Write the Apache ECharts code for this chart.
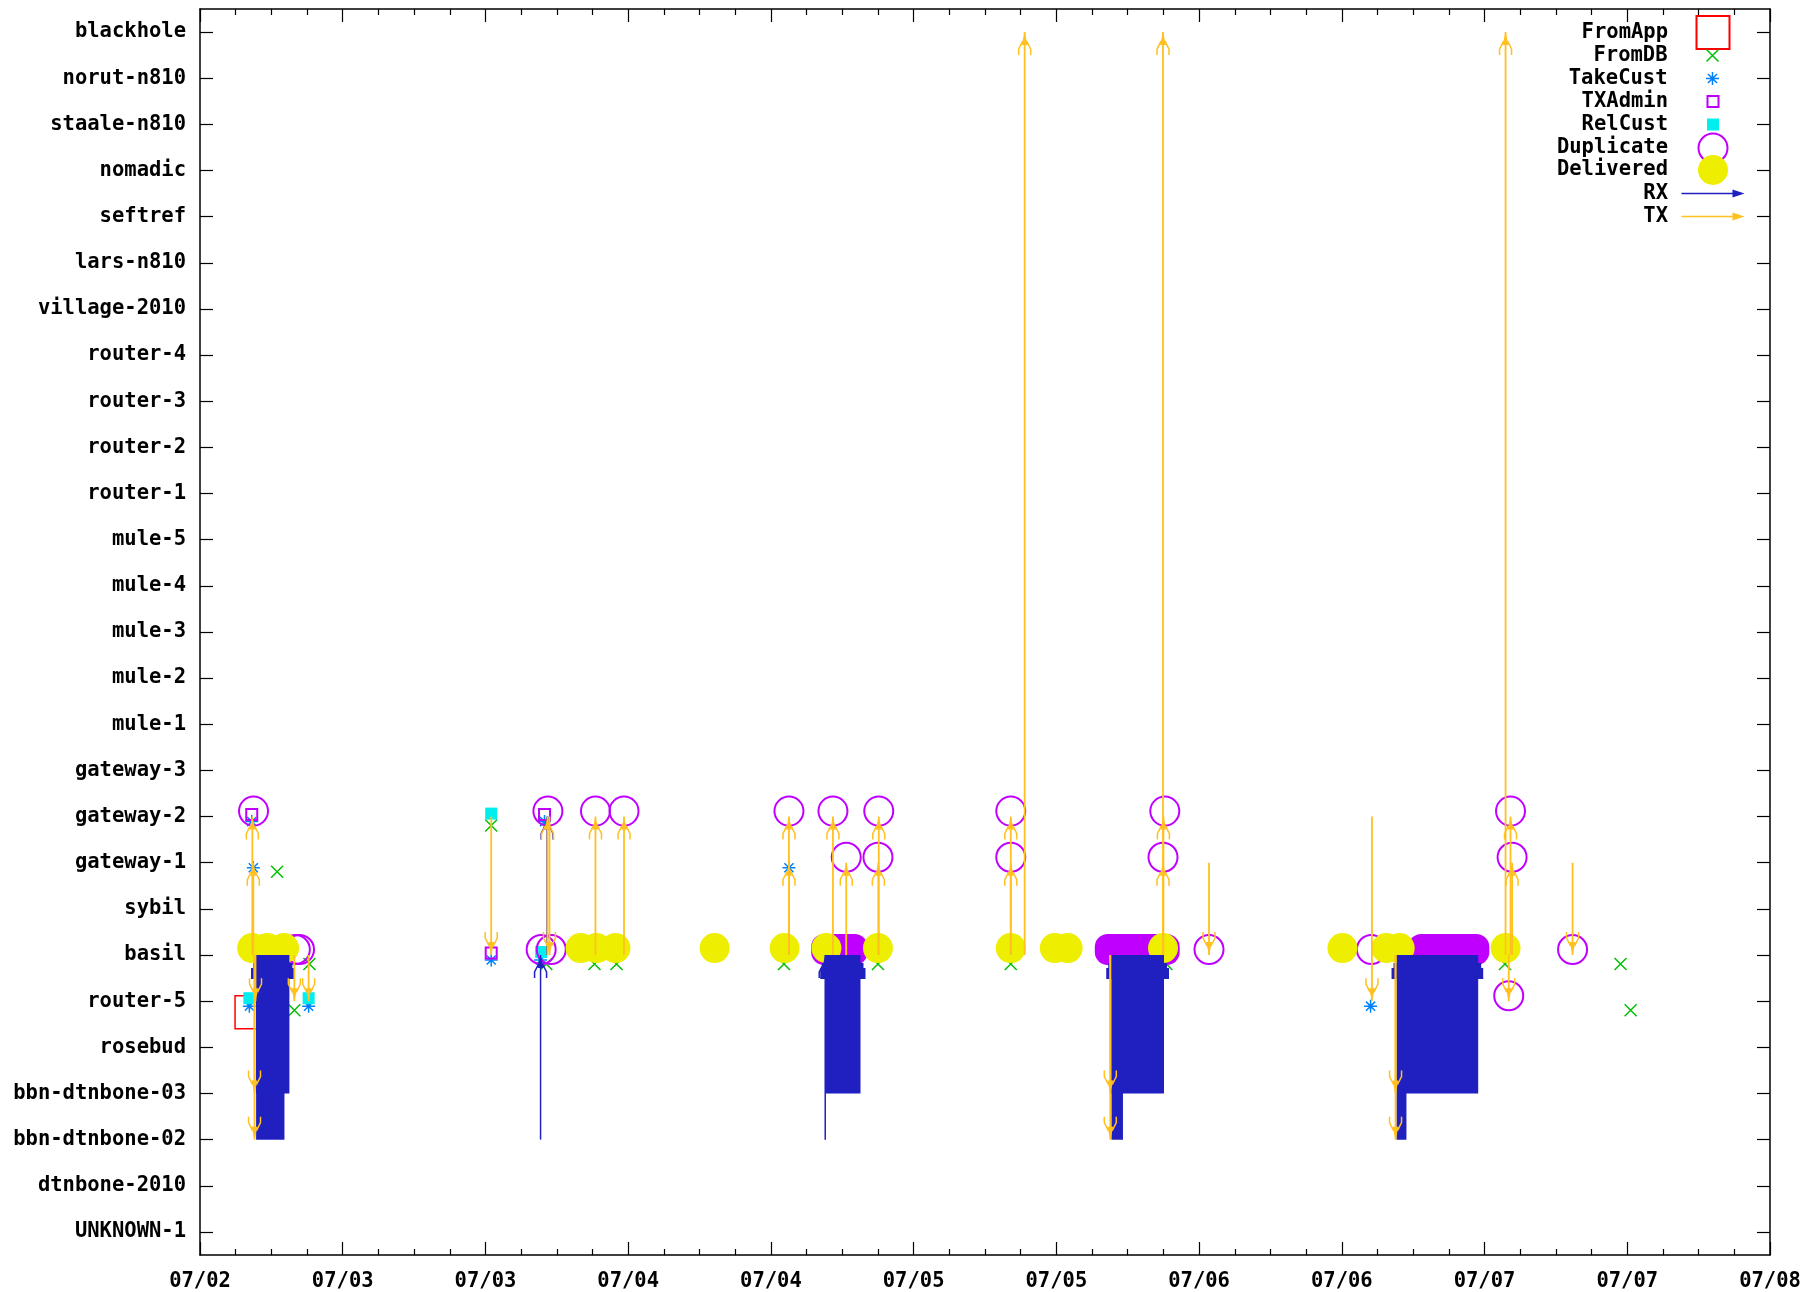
<!DOCTYPE html>
<html><head><meta charset="utf-8">
<script src="https://cdn.jsdelivr.net/npm/echarts@6/dist/echarts.min.js"></script>
<style>html,body{margin:0;padding:0;background:#fff}#c{width:1818px;height:1292px}</style>
</head><body><div id="c"></div>
<script>
// ---------------- DATA ----------------
const categories = ['UNKNOWN-1','dtnbone-2010','bbn-dtnbone-02','bbn-dtnbone-03','rosebud','router-5','basil','sybil',
  'gateway-1','gateway-2','gateway-3','mule-1','mule-2','mule-3','mule-4','mule-5','router-1','router-2','router-3',
  'router-4','village-2010','lars-n810','seftref','nomadic','staale-n810','norut-n810','blackhole'];
const xTickLabels = ['07/02','07/03','07/03','07/04','07/04','07/05','07/05','07/06','07/06','07/07','07/07','07/08'];
const xStart = '07-02 12:00', xEnd = '07-08 00:00';

const fromApp = [['07-02 16:20','router-5']];
const fromDB = [['07-02 18:29','gateway-1'],['07-02 19:56','router-5'],['07-02 21:12','basil'],['07-03 12:29','gateway-2'],
  ['07-03 17:07','basil'],['07-03 21:10','basil'],['07-03 23:01','basil'],['07-04 13:06','basil'],['07-04 21:00','basil'],
  ['07-05 08:10','basil'],['07-05 21:15','basil'],['07-07 01:43','basil'],['07-07 11:26','basil'],['07-07 12:17','router-5']];
const takeCust = [['07-02 16:09','router-5'],['07-02 16:21','gateway-2'],['07-02 16:29','gateway-1'],['07-02 21:08','router-5'],
  ['07-03 12:29','basil'],['07-03 16:38','basil'],['07-03 16:58','gateway-2'],['07-04 13:31','gateway-1'],['07-06 14:25','router-5']];
const txAdmin = [['07-02 16:21','gateway-2'],['07-03 12:29','basil'],['07-03 16:58','gateway-2']];
const relCust = [['07-02 16:09','router-5'],['07-02 21:08','router-5'],['07-03 12:29','gateway-2'],['07-03 16:41','basil']];
const duplicate = [['07-02 16:30','gateway-2'],['07-02 17:30','basil'],['07-02 20:01','basil'],['07-02 20:22','basil'],
  ['07-03 16:41','basil'],['07-03 17:15','gateway-2'],['07-03 17:32','basil'],['07-03 21:15','gateway-2'],['07-03 23:39','gateway-2'],
  ['07-04 13:31','gateway-2'],['07-04 17:13','gateway-2'],['07-04 18:20','gateway-1'],['07-04 21:04','gateway-2'],['07-04 21:00','gateway-1'],
  ['07-05 08:10','gateway-2'],['07-05 08:10','gateway-1'],['07-05 21:07','gateway-2'],['07-05 20:58','gateway-1'],['07-06 00:50','basil'],
  ['07-06 14:29','basil'],['07-07 02:11','gateway-2'],['07-07 02:19','gateway-1'],['07-07 02:02','router-5'],['07-07 07:24','basil']];
// dense runs of duplicates: [start, end, node]
const duplicateRuns = [['07-04 16:41','07-04 18:50','basil'],['07-05 16:32','07-05 21:04','basil'],['07-06 18:53','07-06 23:06','basil']];
const delivered = [['07-02 16:23','basil'],['07-02 17:40','basil'],['07-02 19:04','basil'],['07-03 20:00','basil'],['07-03 21:20','basil'],
  ['07-03 22:56','basil'],['07-04 07:16','basil'],['07-04 13:09','basil'],['07-04 16:40','basil'],['07-04 21:00','basil'],
  ['07-05 08:10','basil'],['07-05 11:52','basil'],['07-05 12:57','basil'],['07-05 20:58','basil'],['07-06 12:03','basil'],
  ['07-06 15:45','basil'],['07-06 16:52','basil'],['07-07 01:46','basil']];
// RX transfers: [time, from, to]
const rx = [['07-03 16:38','bbn-dtnbone-02','basil'],['07-03 17:11','basil','gateway-2'],['07-04 16:34','bbn-dtnbone-02','basil']];
// dense runs of RX transfers: [start, end, from, to]
const rxRuns = [['07-02 16:43','07-02 19:31','bbn-dtnbone-03','basil'],['07-02 16:43','07-02 19:06','bbn-dtnbone-02','basil'],
  ['07-04 16:34','07-04 19:32','bbn-dtnbone-03','basil'],['07-05 16:38','07-05 21:03','bbn-dtnbone-03','basil'],
  ['07-05 16:38','07-05 17:36','bbn-dtnbone-02','basil'],['07-06 16:44','07-06 23:28','bbn-dtnbone-03','basil'],
  ['07-06 16:36','07-06 17:26','bbn-dtnbone-02','basil']];
// TX transfers: [time, from, to]
const tx = [['07-02 16:24','basil','gateway-2'],['07-02 16:29','basil','gateway-1'],['07-02 16:35','basil','bbn-dtnbone-03'],
  ['07-02 16:35','basil','bbn-dtnbone-02'],['07-02 16:40','basil','router-5'],['07-02 19:56','basil','router-5'],['07-02 21:08','basil','router-5'],
  ['07-03 12:29','gateway-2','basil'],['07-03 17:13','basil','gateway-2'],['07-03 17:23','gateway-2','basil'],
  ['07-03 21:15','basil','gateway-2'],['07-03 23:39','basil','gateway-2'],
  ['07-04 13:31','basil','gateway-2'],['07-04 13:31','basil','gateway-1'],['07-04 17:13','basil','gateway-2'],['07-04 18:20','basil','gateway-1'],
  ['07-04 21:04','basil','gateway-2'],['07-04 21:02','basil','gateway-1'],
  ['07-05 08:10','basil','gateway-2'],['07-05 08:10','basil','gateway-1'],['07-05 09:20','basil','blackhole'],
  ['07-05 16:32','basil','bbn-dtnbone-03'],['07-05 16:32','basil','bbn-dtnbone-02'],['07-05 20:58','basil','blackhole'],
  ['07-05 21:00','basil','gateway-2'],['07-05 20:58','basil','gateway-1'],
  ['07-06 00:50','gateway-1','basil'],['07-06 14:32','gateway-2','router-5'],['07-06 16:31','basil','bbn-dtnbone-03'],
  ['07-06 16:31','basil','bbn-dtnbone-02'],['07-07 01:46','basil','blackhole'],['07-07 02:11','basil','gateway-2'],
  ['07-07 02:19','basil','gateway-1'],['07-07 02:02','basil','router-5'],['07-07 07:24','gateway-1','basil']];

// ---------------- HELPERS ----------------
function T(s){const [md,hm]=s.split(' ');const [mo,d]=md.split('-').map(Number);const [h,mi]=hm.split(':').map(Number);return Date.UTC(2010,mo-1,d,h,mi);}
const ci = n => categories.indexOf(n);
const pts = a => a.map(d => [T(d[0]), ci(d[1])]);
const X_MIN = T(xStart), X_MAX = T(xEnd), X_INT = 12*3600*1000;

const COL = {red:'#ff0000', green:'#00c000', blue:'#0080ff', purple:'#c000ff', cyan:'#00eeee', yellow:'#eeee00', navy:'#2020c0', orange:'#ffc020'};
const FONT = "'DejaVu Sans Mono', 'Liberation Mono', monospace";
const X_PATH = 'path://M0,0L10,10M10,0L0,10';
const AST_PATH = 'path://M5,0L5,10M0,5L10,5M1.5,1.5L8.5,8.5M8.5,1.5L1.5,8.5';
const SQ_PATH = 'path://M0,0L10,0L10,10L0,10Z';
const ARROW_PATH = 'path://M0,3.2L51,3.2L51,0L63,4L51,8L51,4.8L0,4.8Z';

function arrowRender(color, lw) {
  return function (params, api) {
    const t = api.value(0), f = api.value(1), to = api.value(2);
    const p1 = api.coord([t, f]), p2 = api.coord([t, to]);
    const dir = p2[1] > p1[1] ? 1 : -1;
    const x = p2[0], y = p2[1];
    return {type: 'group', children: [
      {type: 'line', shape: {x1: p1[0], y1: p1[1], x2: x, y2: y}, style: {stroke: color, lineWidth: lw}},
      {type: 'polygon', shape: {points: [[x, y], [x - 3, y - dir * 13], [x + 3, y - dir * 13]]}, style: {fill: color}},
      {type: 'polyline', shape: {points: [[x - 2, y - dir * 9], [x - 6, y - dir * 17], [x - 6, y - dir * 23]]}, style: {stroke: color, lineWidth: 1.5, fill: null}},
      {type: 'polyline', shape: {points: [[x + 2, y - dir * 9], [x + 6, y - dir * 17], [x + 6, y - dir * 23]]}, style: {stroke: color, lineWidth: 1.5, fill: null}}
    ]};
  };
}
function rxRunRender(params, api) {
  const p1 = api.coord([api.value(0), api.value(2)]);
  const p2 = api.coord([api.value(1), api.value(3)]);
  const x1 = p1[0], x2 = p2[0], yF = p1[1], yT = p2[1];
  const dir = yT < yF ? 1 : -1;
  const top = Math.min(yF, yT), h = Math.abs(yF - yT);
  const st = {fill: COL.navy};
  return {type: 'group', children: [
    {type: 'rect', shape: {x: x1, y: top, width: x2 - x1, height: h}, style: st},
    {type: 'rect', shape: {x: x1 - 3, y: dir > 0 ? yT + 8 : yT - 13, width: x2 - x1 + 6, height: 5}, style: st},
    {type: 'rect', shape: {x: x1 - 5, y: dir > 0 ? yT + 13 : yT - 24, width: x2 - x1 + 10, height: 11}, style: st}
  ]};
}
function dupRunRender(params, api) {
  const p1 = api.coord([api.value(0), api.value(2)]);
  const p2 = api.coord([api.value(1), api.value(2)]);
  return {type: 'rect', shape: {x: p1[0] - 15.5, y: p1[1] - 5.5 - 15.5, width: p2[0] - p1[0] + 31, height: 31, r: 13},
    style: {fill: COL.purple}};
}

const scatterBase = {type: 'scatter', xAxisIndex: 0, yAxisIndex: 0, emphasis: {disabled: true}, animation: false, silent: true};
const S = o => Object.assign({opacity: 1}, o);
const series = [
  Object.assign({}, scatterBase, {name: 'FromApp', z: 2, data: pts(fromApp), symbol: 'rect', symbolSize: 33, symbolOffset: [0, 11],
    itemStyle: S({color: 'rgba(0,0,0,0)', borderColor: COL.red, borderWidth: 1.5})}),
  Object.assign({}, scatterBase, {name: 'FromDB', z: 3, data: pts(fromDB), symbol: X_PATH, symbolSize: 12, symbolOffset: [0, 9],
    itemStyle: S({color: 'none', borderColor: COL.green, borderWidth: 1.5})}),
  Object.assign({}, scatterBase, {name: 'TakeCust', z: 4, data: pts(takeCust), symbol: AST_PATH, symbolSize: 13, symbolOffset: [0, 5],
    itemStyle: S({color: 'none', borderColor: COL.blue, borderWidth: 1.5})}),
  Object.assign({}, scatterBase, {name: 'TXAdmin', z: 5, data: pts(txAdmin), symbol: 'rect', symbolSize: 11, symbolOffset: [0, -2],
    itemStyle: S({color: 'rgba(0,0,0,0)', borderColor: COL.purple, borderWidth: 2})}),
  Object.assign({}, scatterBase, {name: 'RelCust', z: 6, data: pts(relCust), symbol: 'rect', symbolSize: 12, symbolOffset: [0, -3],
    itemStyle: S({color: COL.cyan})}),
  Object.assign({}, scatterBase, {name: 'Duplicate', z: 7, data: pts(duplicate), symbol: 'circle', symbolSize: 29, symbolOffset: [0, -5.5],
    itemStyle: S({color: 'rgba(0,0,0,0)', borderColor: COL.purple, borderWidth: 2})}),
  {type: 'custom', name: 'Duplicate', z: 7, silent: true, animation: false, xAxisIndex: 0, yAxisIndex: 0,
    data: duplicateRuns.map(d => [T(d[0]), T(d[1]), ci(d[2])]), encode: {x: [0, 1], y: 2}, renderItem: dupRunRender},
  Object.assign({}, scatterBase, {name: 'Delivered', z: 8, data: pts(delivered), symbol: 'circle', symbolSize: 30, symbolOffset: [0, -7],
    itemStyle: S({color: COL.yellow})}),
  {type: 'custom', name: 'RX', z: 9, silent: true, animation: false, xAxisIndex: 0, yAxisIndex: 0,
    data: rxRuns.map(d => [T(d[0]), T(d[1]), ci(d[2]), ci(d[3])]), encode: {x: [0, 1], y: [2, 3]}, renderItem: rxRunRender},
  {type: 'custom', name: 'RX', z: 9, silent: true, animation: false, xAxisIndex: 0, yAxisIndex: 0,
    data: rx.map(d => [T(d[0]), ci(d[1]), ci(d[2])]), encode: {x: 0, y: [1, 2]}, renderItem: arrowRender(COL.navy, 1.5)},
  {type: 'custom', name: 'TX', z: 10, silent: true, animation: false, xAxisIndex: 0, yAxisIndex: 0,
    data: tx.map(d => [T(d[0]), ci(d[1]), ci(d[2])]), encode: {x: 0, y: [1, 2]}, renderItem: arrowRender(COL.orange, 1.8)}
];

// legend: one component per entry so each row can have its own icon size.
// [name, row centre y, icon height, drawn icon width, icon, style]
const ICON_CX = 1713;
const legendSpec = [
  ['FromApp', 31.5, 33, 35, SQ_PATH, {color: 'rgba(0,0,0,0)', borderColor: COL.red, borderWidth: 2}],
  ['FromDB', 55, 12, 16, X_PATH, {color: 'none', borderColor: COL.green, borderWidth: 1.5}],
  ['TakeCust', 78, 13, 17, AST_PATH, {color: 'none', borderColor: COL.blue, borderWidth: 1.5}],
  ['TXAdmin', 101, 11, 13, SQ_PATH, {color: 'rgba(0,0,0,0)', borderColor: COL.purple, borderWidth: 2}],
  ['RelCust', 124, 12, 12, SQ_PATH, {color: COL.cyan, borderWidth: 0}],
  ['Duplicate', 147, 29, 31, 'circle', {color: 'rgba(0,0,0,0)', borderColor: COL.purple, borderWidth: 2}],
  ['Delivered', 170, 30, 30, 'circle', {color: COL.yellow, borderWidth: 0}],
  ['RX', 193, 8, 63, ARROW_PATH, {color: COL.navy, borderWidth: 0}],
  ['TX', 216, 8, 63, ARROW_PATH, {color: COL.orange, borderWidth: 0}]
];
const legends = legendSpec.map(([name, cy, ih, iw, icon, st]) => ({
  data: [{name: name, icon: icon, itemStyle: Object.assign({opacity: 1}, st)}],
  orient: 'vertical', align: 'right', right: 1818 - ICON_CX - iw / 2, top: ih >= 20 ? cy - ih / 2 : cy - 10,
  itemWidth: 80, itemHeight: ih, padding: 0, selectedMode: false,
  textStyle: {fontFamily: FONT, fontWeight: 'bold', fontSize: 20.5, lineHeight: 20, color: '#000'}
}));

const labelStyle = {fontFamily: FONT, fontWeight: 'bold', fontSize: 20.5, color: '#000'};
const axLine = {show: true, lineStyle: {color: '#000', width: 1.5}};
const xCommon = {type: 'value', min: X_MIN, max: X_MAX, interval: X_INT, splitLine: {show: false},
  axisLine: axLine, axisTick: {show: true, inside: true, length: 13, lineStyle: {color: '#000', width: 1.2}},
  minorTick: {show: true, splitNumber: 4, length: 6, lineStyle: {color: '#000', width: 1.2}}, minorSplitLine: {show: false}};
const yCommon = {type: 'category', data: categories, boundaryGap: true, splitLine: {show: false}, axisLine: axLine,
  axisTick: {show: true, inside: true, alignWithLabel: true, length: 13, lineStyle: {color: '#000', width: 1.2}}};

const option = {
  backgroundColor: '#fff',
  animation: false,
  grid: {left: 200, right: 48, top: 9, bottom: 37, containLabel: false},
  legend: legends,
  xAxis: [
    Object.assign({}, xCommon, {position: 'bottom', axisLabel: Object.assign({}, labelStyle, {margin: 16,
      formatter: v => xTickLabels[Math.round((v - X_MIN) / X_INT)] || ''})}),
    Object.assign({}, xCommon, {position: 'top', axisLabel: {show: false}})
  ],
  yAxis: [
    Object.assign({}, yCommon, {position: 'left', axisLabel: Object.assign({}, labelStyle, {margin: 14, padding: [4, 0, 0, 0]})}),
    Object.assign({}, yCommon, {position: 'right', axisLabel: {show: false}})
  ],
  series: series
};
const chart = echarts.init(document.getElementById('c'), null, {renderer: 'canvas'});
chart.setOption(option);
</script>
</body></html>
